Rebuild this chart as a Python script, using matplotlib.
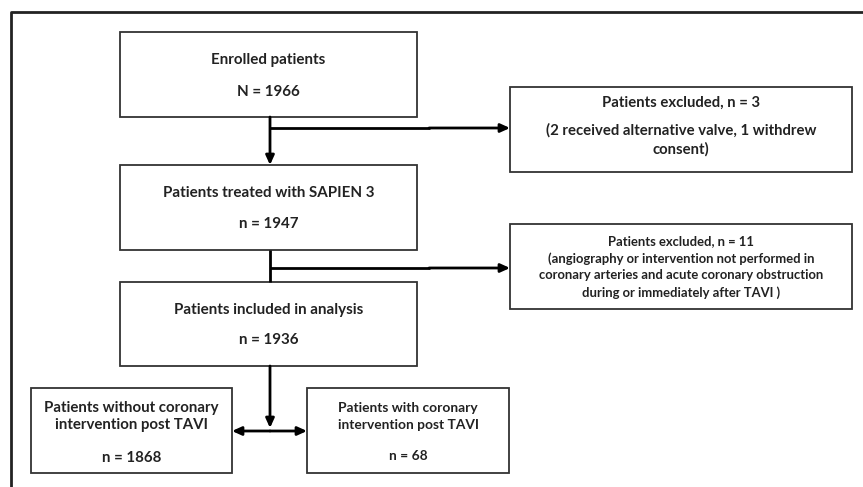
import matplotlib
matplotlib.use("Agg")
import matplotlib.pyplot as plt
from matplotlib.patches import Rectangle

plt.rcParams['font.family'] = ['Lato', 'DejaVu Sans']

# ---- data ----
stage_titles = ["Enrolled patients", "Patients treated with SAPIEN 3", "Patients included in analysis"]
stage_counts = ["N = 1966", "n = 1947", "n = 1936"]
excluded_titles = ["Patients excluded, n = 3", "Patients excluded, n = 11"]
excluded_reasons = ["(2 received alternative valve, 1 withdrew\nconsent)",
                    "(angiography or intervention not performed in\ncoronary arteries and acute coronary obstruction\nduring or immediately after TAVI )"]
group_titles = ["Patients without coronary\nintervention post TAVI", "Patients with coronary\nintervention post TAVI"]
group_counts = ["n = 1868", "n = 68"]

W, H = 863, 487
fig = plt.figure(figsize=(W / 100, H / 100), dpi=100)
ax = fig.add_axes([0, 0, 1, 1])
ax.set_xlim(0, W)
ax.set_ylim(H, 0)
ax.axis('off')

edge = '#333333'
lw_box = 1.3
lw_arrow = 2.0

def box(x0, y0, x1, y1):
    ax.add_patch(Rectangle((x0, y0), x1 - x0, y1 - y0, fill=False, ec=edge, lw=lw_box))

def txt(x, y, s, size=10.9, ls=1.2):
    ax.text(x, y, s, ha='center', va='center', fontsize=size, fontweight='bold',
            color='#222222', linespacing=ls)

def arrow(x0, y0, x1, y1):
    ax.annotate('', xy=(x1, y1), xytext=(x0, y0),
                arrowprops=dict(arrowstyle='-|>,head_length=0.55,head_width=0.25', lw=lw_arrow,
                                color='black', shrinkA=0, shrinkB=0))

def line(xs, ys):
    ax.plot(xs, ys, color='black', lw=lw_arrow, solid_capstyle='butt')

# outer frame (top and left visible)
ax.plot([11, 11, W + 5], [H + 5, 11.5, 11.5], color='#222222', lw=2)

# main boxes
main_boxes = [(120, 32, 417, 117), (120, 165, 417, 250), (120, 282, 417, 366)]
title_y = [60, 193, 310]
count_y = [92, 224, 340]
for (b, t, c, ty, cy) in zip(main_boxes, stage_titles, stage_counts, title_y, count_y):
    box(*b)
    cx = (b[0] + b[2]) / 2
    txt(cx, ty, t)
    txt(cx, cy, c)

# exclusion boxes
box(510, 87, 852, 172)
txt(681, 103, excluded_titles[0], size=10.7)
txt(681, 140, excluded_reasons[0], size=10.7, ls=1.35)
box(510, 224, 852, 309)
txt(681, 267, excluded_titles[1] + "\n" + excluded_reasons[1], size=9.4, ls=1.45)

# group boxes
box(31, 388, 232, 473)
txt(131.5, 416.5, group_titles[0], size=10.8, ls=1.3)
txt(131.5, 458, group_counts[0], size=10.8)
box(307, 388, 509, 473)
txt(408, 416.5, group_titles[1], size=9.9, ls=1.42)
txt(408, 456, group_counts[1], size=9.9)

# connectors
arrow(270, 117, 270, 165)
line([270, 430], [128, 128])
arrow(429, 128, 510, 128)
line([270, 270], [250, 282])
line([270, 430], [268, 268])
arrow(429, 268, 510, 268)
arrow(270, 366, 270, 428)
arrow(270, 431, 232, 431)
arrow(270, 431, 307, 431)

fig.savefig('out.png', dpi=100, facecolor='white')
